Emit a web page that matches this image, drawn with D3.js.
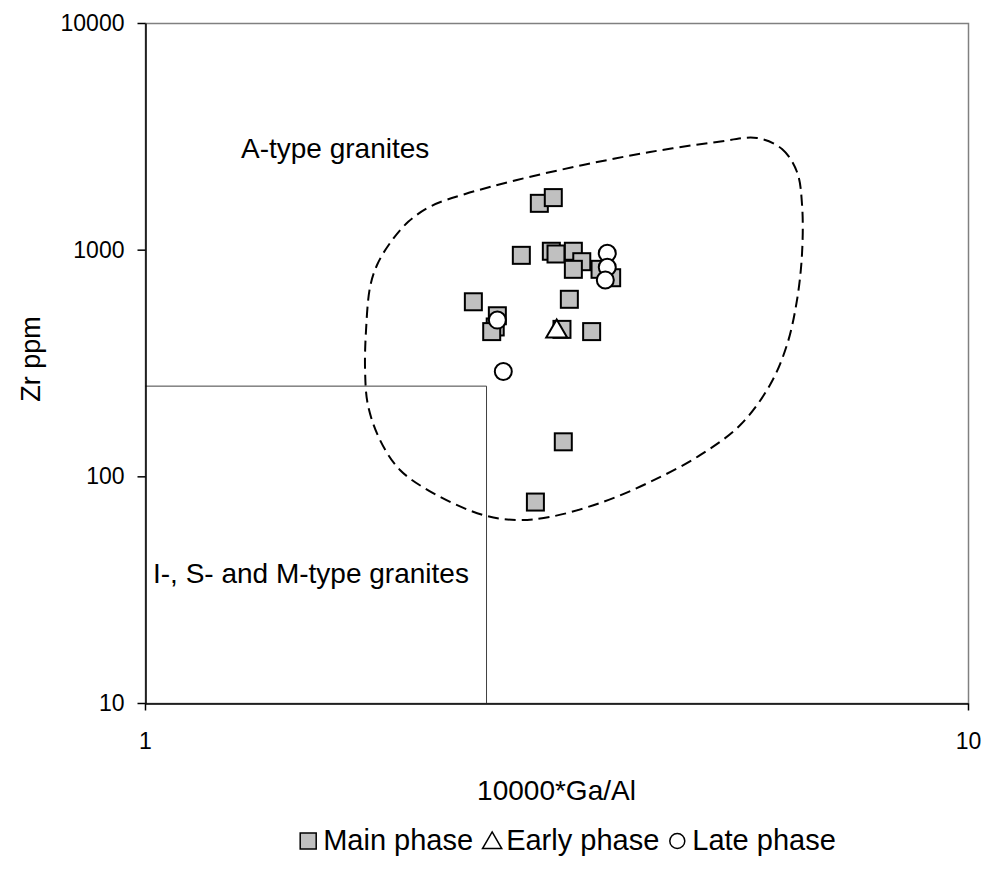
<!DOCTYPE html>
<html>
<head>
<meta charset="utf-8">
<script src="https://cdn.jsdelivr.net/npm/d3@7"></script>
<style>
  body { margin: 0; background: #fff; }
  text { font-family: "Liberation Sans", Arial, sans-serif; fill: #000; }
</style>
</head>
<body>
<div id="chart"></div>
<script>
// main phase samples (10000*Ga/Al, Zr ppm)
const mainGaAl = [3.014, 3.134, 2.866, 3.117, 3.158, 3.315, 3.394, 3.315, 3.572, 3.690,
                  2.506, 2.680, 2.664, 2.638, 3.278, 3.211, 3.489, 3.223, 2.981];
const mainZr   = [1601, 1697, 944, 984, 957, 984, 885, 819, 819, 752,
                  589, 511, 456, 435, 604, 445, 435, 142, 77];
const earlyGaAl = [3.164];
const earlyZr   = [442];
const lateGaAl = [2.680, 2.725, 3.645, 3.645, 3.625];
const lateZr   = [489, 290, 964, 836, 735];

// outline of the A-type field (dashed)
const fieldGaAl = [5.542, 5.943, 6.198, 6.286, 6.286, 6.198, 6.026, 5.746, 5.284, 4.725,
                   4.108, 3.572, 3.105, 2.831, 2.575, 2.239, 2.041, 1.930, 1.866, 1.851,
                   1.856, 1.877, 1.914, 1.985, 2.090, 2.230, 2.450, 2.831, 3.406, 4.108, 4.955];
const fieldZr   = [3109, 2780, 2201, 1574, 967, 600, 380, 253, 168, 124,
                   94.4, 76.3, 66.2, 64.2, 67.5, 84.4, 106.7, 144.6, 206, 294,
                   442, 684, 856, 1070, 1330, 1560, 1760, 2030, 2363, 2697, 2985];

// I-, S- and M-type limit
const limitGaAl = 2.6;
const limitZr = 250;

const xTicks = [1, 10];
const yTicks = [10, 100, 1000, 10000];
const seriesNames = ["Main phase", "Early phase", "Late phase"];

const width = 990, height = 873;
const plotL = 145, plotR = 968, plotT = 23, plotB = 703;

const svg = d3.select("#chart").append("svg")
    .attr("width", width)
    .attr("height", height);

const x = d3.scaleLog().domain([1, 10]).range([plotL, plotR]);
const y = d3.scaleLog().domain([10, 10000]).range([plotB, plotT]);

// plot area frame
svg.append("rect")
    .attr("x", plotL + 0.5)
    .attr("y", plotT + 0.5)
    .attr("width", plotR - plotL)
    .attr("height", plotB - plotT)
    .attr("fill", "none")
    .attr("stroke", "#808080")
    .attr("stroke-width", 1.5);

// field boundary
const line = d3.line()
    .x(d => x(d[0]))
    .y(d => y(d[1]))
    .curve(d3.curveCatmullRomClosed.alpha(0.5));

svg.append("path")
    .datum(fieldGaAl.map((g, i) => [g, fieldZr[i]]))
    .attr("d", line)
    .attr("fill", "none")
    .attr("stroke", "#000")
    .attr("stroke-width", 2)
    .attr("stroke-dasharray", "11,6");

// I-S-M box
svg.append("path")
    .attr("d", `M${x(1)},${y(limitZr)}H${x(limitGaAl)}V${y(10)}`)
    .attr("fill", "none")
    .attr("stroke", "#404040")
    .attr("stroke-width", 1);

// axes
const xAxis = d3.axisBottom(x).tickValues(xTicks).tickFormat(d3.format("d"))
    .tickSize(7).tickSizeOuter(0).tickPadding(22);
const yAxis = d3.axisLeft(y).tickValues(yTicks).tickFormat(d3.format("d"))
    .tickSize(8).tickSizeOuter(0).tickPadding(13);

const gx = svg.append("g").attr("transform", `translate(0,${plotB + 0.5})`).call(xAxis);
const gy = svg.append("g").attr("transform", `translate(${plotL + 0.5},0)`).call(yAxis);
[gx, gy].forEach(g => {
    g.selectAll("path, line").attr("stroke", "#000").attr("stroke-width", 1.5);
    g.selectAll("text").attr("font-size", 23).attr("font-family", "Liberation Sans, Arial, sans-serif").attr("fill", "#000");
});

// points
svg.append("g").selectAll("rect")
    .data(mainGaAl.map((g, i) => [g, mainZr[i]]))
    .enter().append("rect")
    .attr("x", d => x(d[0]) - 8.5)
    .attr("y", d => y(d[1]) - 8.5)
    .attr("width", 17)
    .attr("height", 17)
    .attr("fill", "#c0c0c0")
    .attr("stroke", "#000")
    .attr("stroke-width", 2);

const tri = d3.symbol().type(d3.symbolTriangle).size(190);
svg.append("g").selectAll("path")
    .data(earlyGaAl.map((g, i) => [g, earlyZr[i]]))
    .enter().append("path")
    .attr("d", tri)
    .attr("transform", d => `translate(${x(d[0])},${y(d[1]) + 1.5})`)
    .attr("fill", "#fff")
    .attr("stroke", "#000")
    .attr("stroke-width", 2);

svg.append("g").selectAll("circle")
    .data(lateGaAl.map((g, i) => [g, lateZr[i]]))
    .enter().append("circle")
    .attr("cx", d => x(d[0]))
    .attr("cy", d => y(d[1]))
    .attr("r", 8.5)
    .attr("fill", "#fff")
    .attr("stroke", "#000")
    .attr("stroke-width", 2);

// field labels
svg.append("text").attr("x", 241).attr("y", 158).attr("font-size", 28).text("A-type granites");
svg.append("text").attr("x", 153).attr("y", 583).attr("font-size", 28).text("I-, S- and M-type granites");

// axis titles
svg.append("text")
    .attr("x", (plotL + plotR) / 2)
    .attr("y", 800)
    .attr("text-anchor", "middle")
    .attr("font-size", 28)
    .text("10000*Ga/Al");

svg.append("text")
    .attr("transform", `translate(40,359) rotate(-90)`)
    .attr("text-anchor", "middle")
    .attr("font-size", 27)
    .text("Zr ppm");

// legend
const legend = svg.append("g");
const legendY = 850;
let cursor = 0;
seriesNames.forEach((name, i) => {
    const item = legend.append("g").attr("transform", `translate(${cursor},0)`);
    if (i === 0) {
        item.append("rect").attr("x", 0).attr("y", legendY - 17).attr("width", 16).attr("height", 16)
            .attr("fill", "#c0c0c0").attr("stroke", "#000").attr("stroke-width", 1.5);
    } else if (i === 1) {
        item.append("path").attr("d", d3.symbol().type(d3.symbolTriangle).size(160))
            .attr("transform", `translate(9,${legendY - 7})`)
            .attr("fill", "#fff").attr("stroke", "#000").attr("stroke-width", 1.5);
    } else {
        item.append("circle").attr("cx", 8).attr("cy", legendY - 9).attr("r", 7.5)
            .attr("fill", "#fff").attr("stroke", "#000").attr("stroke-width", 1.5);
    }
    const t = item.append("text").attr("x", 23).attr("y", legendY).attr("font-size", 29).text(name);
    cursor += 23 + t.node().getComputedTextLength() + 10;
});
legend.attr("transform", `translate(${568 - (cursor - 10) / 2},0)`);
</script>
</body>
</html>
